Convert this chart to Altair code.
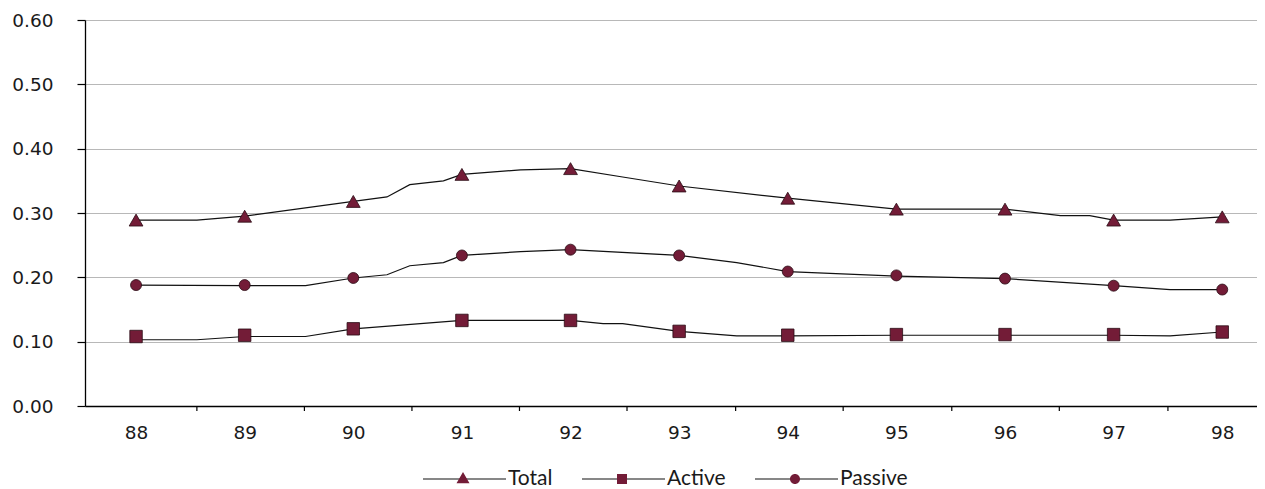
import altair as alt
import pandas as pd

# ---------------- data ----------------
years = [88, 89, 90, 91, 92, 93, 94, 95, 96, 97, 98]
series = ["Total", "Active", "Passive"]

# values at the yearly markers
total_markers = [0.289, 0.295, 0.318, 0.360, 0.369, 0.342, 0.323, 0.306, 0.306, 0.289, 0.294]
active_markers = [0.108, 0.110, 0.120, 0.133, 0.133, 0.116, 0.110, 0.111, 0.111, 0.111, 0.115]
passive_markers = [0.188, 0.188, 0.199, 0.234, 0.243, 0.234, 0.209, 0.203, 0.198, 0.187, 0.181]

# vertices of the connecting lines
total_line_x = [88, 88.56, 89, 90, 90.31, 90.52, 90.83, 91, 91.54, 92, 92.48, 93, 94, 95, 96, 96.51, 96.78, 97, 97.52, 98]
total_line_v = [0.289, 0.289, 0.295, 0.318, 0.325, 0.344, 0.350, 0.360, 0.367, 0.369, 0.356, 0.342, 0.323, 0.306, 0.306, 0.296, 0.296, 0.289, 0.289, 0.294]

passive_line_x = [88, 89, 89.56, 90, 90.31, 90.52, 90.83, 91, 91.54, 92, 93, 93.53, 94, 95, 96, 97, 97.52, 98]
passive_line_v = [0.188, 0.187, 0.187, 0.199, 0.204, 0.218, 0.223, 0.234, 0.240, 0.243, 0.234, 0.223, 0.209, 0.202, 0.198, 0.187, 0.181, 0.181]

active_line_x = [88, 88.56, 89, 89.56, 90, 91, 92, 92.30, 92.48, 93, 93.53, 94, 95, 96, 97, 97.52, 98]
active_line_v = [0.103, 0.103, 0.108, 0.108, 0.120, 0.133, 0.133, 0.128, 0.128, 0.116, 0.109, 0.109, 0.110, 0.110, 0.110, 0.109, 0.115]

# category boundaries where the x-axis ticks sit
tick_pos = [88.56, 89.55, 90.54, 91.53, 92.52, 93.52, 94.51, 95.51, 96.50, 97.50]

y_ticks = [0.0, 0.1, 0.2, 0.3, 0.4, 0.5, 0.6]

# ---------------- tables ----------------
line_rows = []
for name, xs, vs in [("Total", total_line_x, total_line_v),
                     ("Active", active_line_x, active_line_v),
                     ("Passive", passive_line_x, passive_line_v)]:
    for i, (x, v) in enumerate(zip(xs, vs)):
        line_rows.append({"series": name, "x": x, "v": v, "i": i})
line_df = pd.DataFrame(line_rows)

marker_rows = []
for name, vs in [("Total", total_markers), ("Active", active_markers), ("Passive", passive_markers)]:
    for yr, v in zip(years, vs):
        marker_rows.append({"series": name, "year": yr, "v": v})
marker_df = pd.DataFrame(marker_rows)

tick_df = pd.DataFrame({"t": tick_pos})

# ---------------- styling ----------------
NUM_FONT = "DejaVu Sans"
TXT_FONT = "Lato"
maroon = "#731c37"
edge = "#2a0b14"
PLOT_W = 1172
PLOT_H = 386

x_scale = alt.Scale(domain=[87.53, 98.32], nice=False, zero=False)
y_scale = alt.Scale(domain=[0, 0.6], nice=False, zero=True)

x_axis = alt.Axis(values=years, format="d", title=None, ticks=False, grid=False,
                  labelFont=NUM_FONT, labelFontSize=18.5, labelColor="#1a1a1a", labelPadding=17,
                  labelFlush=False, domainColor="black", domainWidth=1.3)
y_axis = alt.Axis(values=y_ticks, format=".2f", title=None,
                  labelFont=NUM_FONT, labelFontSize=18.5, labelColor="#1a1a1a", labelPadding=24,
                  tickSize=8, tickColor="black", tickWidth=1.2,
                  domainColor="black", domainWidth=1.3,
                  gridColor="#b8b8b8", gridWidth=1, minExtent=75, maxExtent=75)

# legend symbols (unit coords, 10 px per unit): a line, and the marker drawn over it
line_path = "M-4.0,0H4.3"
tri_path = "M-4.0,0H-0.7M0.7,0H4.3M-0.65,0.42L0,-0.7L0.65,0.42Z"
sq_path = "M-4.0,0H-0.5M0.5,0H4.3M-0.5,-0.5H0.5V0.5H-0.5Z"
circ_path = "M-4.0,0H-0.5M0.5,0H4.3M0.5,0A0.5,0.5 0 1,1 -0.5,0A0.5,0.5 0 1,1 0.5,0Z"

LEG_X = 367
LEG_Y = 448
leg_common = dict(title=None, orient="none", direction="horizontal",
                  legendX=LEG_X, legendY=LEG_Y, padding=0, symbolSize=400,
                  labelFont=TXT_FONT, labelFontSize=21, labelColor="#1a1a1a",
                  labelOffset=34, columnPadding=26)

lines = alt.Chart(line_df).mark_line(color="#111111", strokeWidth=1.2).encode(
    x=alt.X("x:Q", scale=x_scale, axis=x_axis),
    y=alt.Y("v:Q", scale=y_scale, axis=y_axis),
    detail="series:N",
    order="i:Q",
)

points = alt.Chart(marker_df).mark_point(filled=True, color=maroon, stroke=edge,
                                         strokeWidth=0.8, opacity=1).encode(
    x=alt.X("year:Q", scale=x_scale, axis=x_axis),
    y=alt.Y("v:Q", scale=y_scale, axis=y_axis),
    shape=alt.Shape("series:N", scale=alt.Scale(domain=series, range=["triangle-up", "square", "circle"]), legend=None),
    size=alt.Size("series:N", scale=alt.Scale(domain=series, range=[190, 121, 121]), legend=None),
)

ticks = alt.Chart(tick_df).mark_rule(color="black", strokeWidth=1.2).encode(
    x=alt.X("t:Q", scale=x_scale, axis=x_axis),
    y=alt.value(PLOT_H),
    y2=alt.value(PLOT_H + 5),
)

legend_lines = alt.Chart(marker_df).transform_filter("false").mark_point(
    filled=False, color="#111111", strokeWidth=1.1, opacity=1, size=400
).encode(
    x=alt.X("year:Q", scale=x_scale, axis=x_axis),
    y=alt.Y("v:Q", scale=y_scale, axis=y_axis),
    shape=alt.Shape("series:N",
                    scale=alt.Scale(domain=series, range=[line_path, line_path, line_path]),
                    legend=alt.Legend(symbolStrokeWidth=1.1, symbolOpacity=1, **leg_common)),
)

legend_marks = alt.Chart(marker_df).transform_filter("false").mark_point(
    filled=True, color=maroon, opacity=1, size=400
).encode(
    x=alt.X("year:Q", scale=x_scale, axis=x_axis),
    y=alt.Y("v:Q", scale=y_scale, axis=y_axis),
    shape=alt.Shape("series:N",
                    scale=alt.Scale(domain=series, range=[tri_path, sq_path, circ_path]),
                    legend=alt.Legend(symbolOpacity=1, labelOpacity=0, **leg_common)),
)

chart = alt.layer(lines, ticks, points, legend_lines, legend_marks).resolve_scale(
    shape="independent", size="independent"
).properties(
    width=PLOT_W, height=PLOT_H,
    padding={"left": 2, "top": 3, "right": 0, "bottom": 0},
    background="white",
).configure_view(stroke=None)

chart.save("out.html", embed_options={"renderer": "svg", "actions": False})
